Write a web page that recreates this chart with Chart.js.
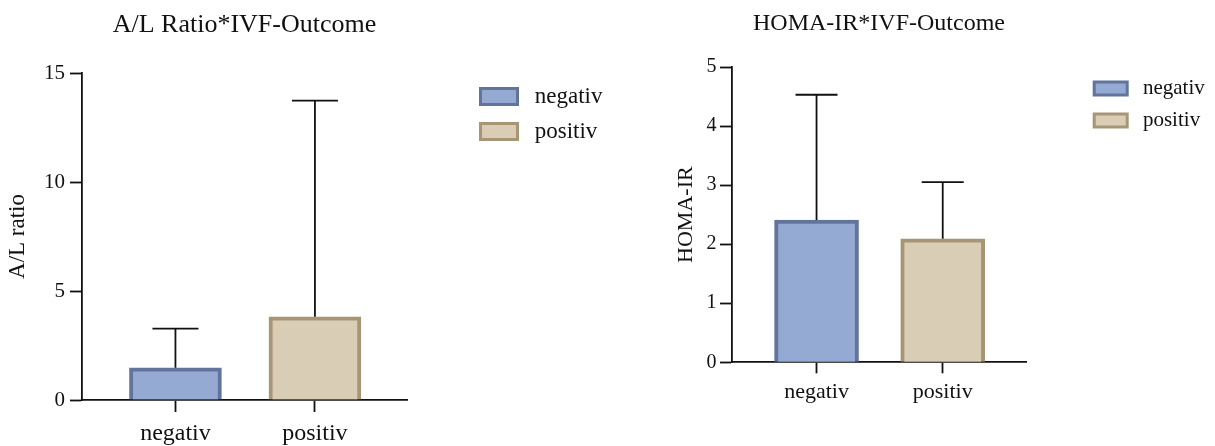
<!DOCTYPE html>
<html>
<head>
<meta charset="utf-8">
<script src="https://cdn.jsdelivr.net/npm/chart.js@4.4.1/dist/chart.umd.min.js"></script>
<style>
  html, body { margin: 0; padding: 0; background: #ffffff; overflow: hidden; }
  #wrap { position: relative; width: 1215px; height: 446px; overflow: hidden; }
  canvas { position: absolute; top: 0; }
  #alChart { left: 0; }
  #homaChart { left: 650px; }
</style>
</head>
<body>
<div id="wrap">
  <canvas id="alChart" width="650" height="446"></canvas>
  <canvas id="homaChart" width="600" height="446"></canvas>
</div>
<script>
// Groups (IVF outcome)
const categories = ['negativ', 'positiv'];

// A/L ratio: group means and upper error (SD)
const alMeans = [1.48, 3.82];
const alSd = [1.79, 9.91];
const alTicks = [0, 5, 10, 15];

// HOMA-IR: group means and upper error (SD)
const homaMeans = [2.41, 2.09];
const homaSd = [2.12, 0.96];
const homaTicks = [0, 1, 2, 3, 4, 5];

const SERIF = '"Liberation Serif", "Times New Roman", serif';
const INK = '#111111';
const LINE = 1.8;
const palette = {
  fill: ['#95aad2', '#d9cdb5'],
  edge: ['#62749c', '#a69676']
};

// Draws the upward SD whisker with a cap above every bar
const errorBars = {
  id: 'errorBars',
  afterDatasetsDraw(chart, args, opts) {
    const { ctx } = chart;
    const yScale = chart.scales.y;
    ctx.save();
    ctx.strokeStyle = INK;
    ctx.lineWidth = opts.lineWidth;
    chart.data.datasets.forEach((ds, i) => {
      const bar = chart.getDatasetMeta(i).data[0];
      const topY = yScale.getPixelForValue(ds.data[0].y + ds.errorPlus);
      const half = bar.width * opts.capRatio / 2;
      ctx.beginPath();
      ctx.moveTo(bar.x, bar.y);
      ctx.lineTo(bar.x, topY);
      ctx.moveTo(bar.x - half, topY);
      ctx.lineTo(bar.x + half, topY);
      ctx.stroke();
    });
    ctx.restore();
  }
};

function buildChart(canvasId, spec) {
  const datasets = categories.map((name, i) => ({
    label: name,
    data: [{ x: i, y: spec.means[i] }],
    errorPlus: spec.sd[i],
    backgroundColor: palette.fill[i],
    borderColor: palette.edge[i],
    borderWidth: 4,
    barThickness: spec.barWidth,
    grouped: false
  }));

  const axisGrid = (len) => ({
    offset: false,
    drawOnChartArea: false,
    drawTicks: true,
    tickLength: len,
    tickWidth: LINE,
    tickColor: INK
  });
  const axisBorder = { display: true, color: INK, width: LINE };

  const chart = new Chart(document.getElementById(canvasId), {
    type: 'bar',
    data: { datasets },
    options: {
      responsive: false,
      animation: false,
      events: [],
      layout: { padding: { left: 0, top: 0, right: spec.padRight, bottom: 0 } },
      scales: {
        x: {
          type: 'linear',
          offset: false,
          min: -0.67,
          max: 1.66,
          afterBuildTicks: (s) => { s.ticks = categories.map((c, i) => ({ value: i })); },
          afterFit: (s) => { s.height = spec.xHeight; },
          ticks: {
            callback: (v) => categories[v],
            color: INK,
            font: { family: SERIF, size: spec.xFont },
            padding: spec.xPad,
            maxRotation: 0,
            autoSkip: false
          },
          grid: axisGrid(spec.xTick),
          border: axisBorder
        },
        y: {
          min: 0,
          max: spec.yMax,
          afterBuildTicks: (s) => { s.ticks = spec.ticks.map((v) => ({ value: v })); },
          afterFit: (s) => { s.width = spec.yWidth; },
          ticks: {
            color: INK,
            font: { family: SERIF, size: spec.tickFont },
            padding: spec.yPad
          },
          grid: axisGrid(12),
          border: axisBorder,
          title: {
            display: true,
            text: spec.yTitle,
            color: INK,
            font: { family: SERIF, size: spec.yTitleFont },
            padding: { top: spec.yTitlePad, bottom: 0 }
          }
        },
        // empty spacer between plot and legend
        gap: {
          type: 'linear',
          position: 'right',
          afterFit: (s) => { s.width = spec.gap; },
          ticks: { display: false },
          grid: { display: false },
          border: { display: false }
        }
      },
      plugins: {
        title: {
          display: true,
          fullSize: false,
          text: spec.title,
          color: INK,
          font: { family: SERIF, size: spec.titleFont, weight: 'normal' },
          padding: { top: spec.titlePadTop, bottom: spec.titlePadBottom }
        },
        legend: {
          position: 'right',
          align: 'start',
          fullSize: false,
          maxWidth: 400,
          labels: {
            boxWidth: spec.boxW,
            boxHeight: spec.boxH,
            padding: spec.legendPad,
            color: INK,
            font: { family: SERIF, size: spec.legendFont },
            generateLabels: (c) => Chart.defaults.plugins.legend.labels.generateLabels(c)
              .map((item) => ({ ...item, text: ' ' + item.text, lineWidth: 3 }))
          }
        },
        tooltip: { enabled: false },
        errorBars: { lineWidth: LINE, capRatio: 0.5 }
      }
    },
    plugins: [errorBars]
  });

  // pin the legend at its column, keeping the spacer width
  for (let k = 0; k < 3; k++) {
    const dx = chart.legend.left - spec.legendLeft;
    if (Math.abs(dx) < 0.1) break;
    chart.options.layout.padding.right += dx;
    chart.update('none');
  }
  return chart;
}

buildChart('alChart', {
  title: 'A/L Ratio*IVF-Outcome',
  yTitle: 'A/L ratio',
  means: alMeans,
  sd: alSd,
  ticks: alTicks,
  yMax: 15,
  barWidth: 92,
  titleFont: 26, titlePadTop: 10, titlePadBottom: 31.8,
  yTitleFont: 23, yTitlePad: 4.2,
  tickFont: 21, yPad: 5, yWidth: 82,
  xFont: 24, xPad: 7, xHeight: 46, xTick: 12,
  legendFont: 23, boxW: 37, boxH: 16, legendPad: 12,
  legendLeft: 468.5, gap: 61.5, padRight: 36
});

buildChart('homaChart', {
  title: 'HOMA-IR*IVF-Outcome',
  yTitle: 'HOMA-IR',
  means: homaMeans,
  sd: homaSd,
  ticks: homaTicks,
  yMax: 5,
  barWidth: 84,
  titleFont: 24, titlePadTop: 9.1, titlePadBottom: 29.1,
  yTitleFont: 22, yTitlePad: 22.8,
  tickFont: 20, yPad: 3.5, yWidth: 82,
  xFont: 22, xPad: 5.5, xHeight: 83.7, xTick: 11,
  legendFont: 21, boxW: 33, boxH: 13, legendPad: 11,
  legendLeft: 433.2, gap: 57.2, padRight: 35
});
</script>
</body>
</html>
